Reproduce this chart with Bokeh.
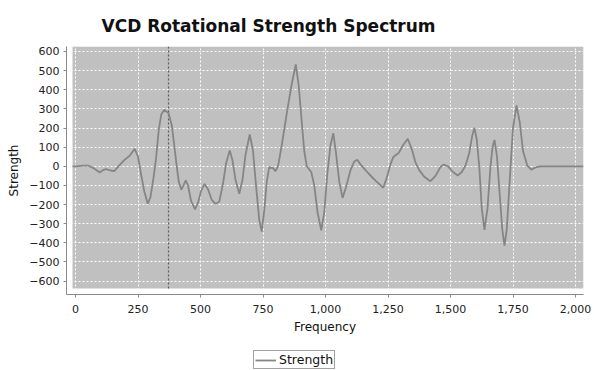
from bokeh.plotting import figure
from bokeh.layouts import column
from bokeh.models import (BoxAnnotation, Legend, LegendItem, NumeralTickFormatter,
                          FixedTicker, Range1d)
from bokeh.embed import file_html
from bokeh.resources import INLINE

# ---- data ----
frequency = [-12, 0, 30, 52, 70, 97, 110, 122, 140, 155, 175, 195, 217, 237, 250, 262, 275,
             289, 300, 312, 322, 333, 343, 355, 372, 385, 395, 404, 413, 423, 432, 441,
             450, 462, 478, 490, 502, 516, 530, 545, 560, 575, 590, 603, 617, 628, 640,
             655, 668, 680, 697, 710, 722, 735, 745, 755, 765, 775, 790, 800, 810, 825,
             847, 865, 881, 893, 905, 915, 925, 943, 955, 968, 983, 995, 1008, 1020,
             1031, 1042, 1055, 1068, 1082, 1100, 1115, 1127, 1140, 1160, 1173, 1200,
             1231, 1245, 1260, 1271, 1283, 1293, 1310, 1329, 1345, 1360, 1375, 1395,
             1420, 1440, 1460, 1473, 1490, 1510, 1529, 1545, 1560, 1575, 1587, 1596,
             1605, 1615, 1625, 1636, 1648, 1660, 1668, 1676, 1686, 1697, 1707, 1716,
             1725, 1738, 1750, 1764, 1777, 1790, 1807, 1823, 1844, 1860, 2032]
strength = [0, 0, 3, 3, -8, -32, -20, -15, -22, -25, 5, 32, 56, 91, 50, -40, -130,
            -196, -160, -60, 40, 190, 270, 295, 278, 215, 110, 10, -80, -123, -100, -74,
            -100, -180, -225, -190, -130, -92, -120, -175, -196, -185, -90, 20, 82, 30, -70,
            -144, -70, 60, 166, 80, -100, -280, -341, -230, -80, -4, -10, -25, 0, 110,
            292, 430, 532, 420, 230, 80, 0, -30, -100, -240, -335, -240, -30, 110,
            173, 70, -80, -165, -110, -20, 25, 34, 10, -20, -39, -75,
            -112, -60, 10, 48, 60, 70, 110, 144, 90, 20, -20, -55,
            -78, -50, -4, 9, 0, -30, -48, -30, 4, 70, 160, 201,
            140, 0, -220, -332, -220, 0, 100, 138, 50, -150, -330, -414,
            -330, -50, 200, 318, 230, 80, 4, -18, -4, 0, 0]
crosshair_x = 372
x_ticks = [0, 250, 500, 750, 1000, 1250, 1500, 1750, 2000]
y_ticks = [-600, -500, -400, -300, -200, -100, 0, 100, 200, 300, 400, 500, 600]

# plot area (grey) and axis-offset limits
x_lo, x_hi = -12, 2032
y_lo, y_hi = -639, 626
x_start, y_start = -36, -670

FONT = "DejaVu Sans"
LINE_COLOR = "#858585"

p = figure(width=594, height=348, output_backend="svg", toolbar_location=None,
           x_range=Range1d(x_start, x_hi), y_range=Range1d(y_start, y_hi),
           min_border_left=66, min_border_right=11, min_border_top=46, min_border_bottom=54,
           title="VCD Rotational Strength Spectrum")

p.background_fill_color = "white"
p.border_fill_color = "white"
p.outline_line_color = None

grey = BoxAnnotation(left=x_lo, bottom=y_lo, fill_color="#c0c0c0", fill_alpha=1.0,
                     line_color="#e6e6e6", line_width=1, level="image")
p.add_layout(grey)

p.title.text_font = FONT
p.title.text_font_size = "17px"
p.title.text_font_style = "bold"
p.title.text_color = "#111111"
p.title.align = "left"
p.title.offset = 35
p.title.standoff = 21

# grids
for g in (p.xgrid, p.ygrid):
    g.grid_line_color = "white"
    g.grid_line_dash = "2 2"
    g.grid_line_width = 1
p.xgrid.ticker = FixedTicker(ticks=x_ticks)
p.ygrid.ticker = FixedTicker(ticks=y_ticks)

# axes
for ax in (p.xaxis[0], p.yaxis[0]):
    ax.axis_line_color = "#8a8a8a"
    ax.major_tick_line_color = "#8a8a8a"
    ax.major_tick_out = 3
    ax.major_tick_in = 0
    ax.minor_tick_line_color = None
    ax.major_label_text_font = FONT
    ax.major_label_text_font_size = "11px"
    ax.major_label_text_color = "#222222"
    ax.axis_label_text_font = FONT
    ax.axis_label_text_font_size = "12px"
    ax.axis_label_text_font_style = "normal"
    ax.axis_label_text_color = "#111111"
p.xaxis.ticker = FixedTicker(ticks=x_ticks)
p.yaxis.ticker = FixedTicker(ticks=y_ticks)
p.xaxis.formatter = NumeralTickFormatter(format="0,0")
p.xaxis.axis_label = "Frequency"
p.yaxis.axis_label = "Strength"
p.xaxis.major_label_standoff = 7
p.yaxis.major_label_standoff = 4
p.xaxis.axis_label_standoff = 4
p.yaxis.axis_label_standoff = 5

# crosshair
p.segment(x0=[crosshair_x], y0=[y_lo], x1=[crosshair_x], y1=[y_hi],
          line_color="#5a5a5a", line_dash="2 2", line_width=1.2)

r = p.line(frequency, strength, line_color=LINE_COLOR, line_width=1.8)

# legend strip below the chart (same series, kept outside this strip's view range)
p2 = figure(width=594, height=22, output_backend="svg", toolbar_location=None,
            x_range=Range1d(100000, 100001), y_range=Range1d(100000, 100001),
            x_axis_type=None, y_axis_type=None, min_border=0)
p2.grid.visible = False
p2.outline_line_color = None
r2 = p2.line(frequency, strength, line_color=LINE_COLOR, line_width=1.8)
legend = Legend(items=[LegendItem(label="Strength", renderers=[r2])],
                location=(187, 1), orientation="horizontal",
                label_text_font=FONT, label_text_font_size="12.5px",
                label_text_color="#111111",
                border_line_color="#444444", border_line_width=1,
                padding=1, margin=0, spacing=0, glyph_width=21, glyph_height=14,
                label_standoff=3, background_fill_alpha=1.0)
p2.add_layout(legend)

layout = column(p, p2, spacing=0)
open("out.html", "w").write(file_html(layout, INLINE))
